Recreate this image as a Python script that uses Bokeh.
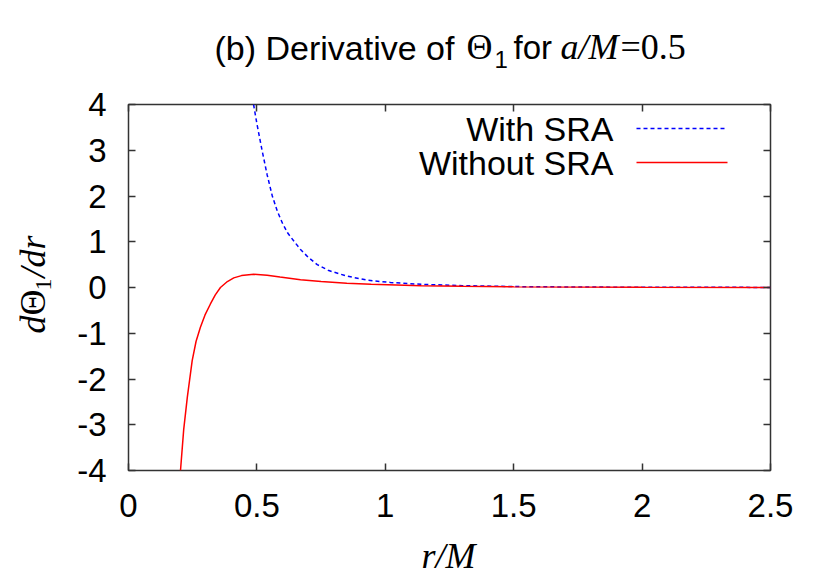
from math import pi
from bokeh.plotting import figure
from bokeh.models import LinearAxis, FixedTicker, Range1d, CustomJSTickFormatter
from bokeh.core.properties import value
from bokeh.embed import file_html
from bokeh.resources import INLINE

# ---- data ----
r_with = [0.487, 0.50, 0.52, 0.54, 0.56, 0.58, 0.60, 0.62, 0.646, 0.67, 0.70, 0.735, 0.78,
          0.85, 0.93, 1.02, 1.14, 1.3, 1.5, 1.75, 2.0, 2.25, 2.5]
d_with = [4.0, 3.58, 3.0, 2.46, 2.0, 1.66, 1.40, 1.19, 1.0, 0.83, 0.66, 0.5, 0.37,
          0.25, 0.16, 0.11, 0.07, 0.04, 0.02, 0.01, 0.006, 0.004, 0.002]

r_without = [0.2025, 0.215, 0.229, 0.248, 0.263, 0.280, 0.298, 0.319, 0.338, 0.358,
             0.385, 0.41, 0.44, 0.488, 0.54, 0.59, 0.67, 0.75, 0.85, 0.945, 1.14, 1.3, 1.5, 2.0, 2.5]
d_without = [-4.0, -3.1, -2.4, -1.6, -1.18, -0.87, -0.6, -0.36, -0.16, 0.0,
             0.13, 0.21, 0.26, 0.29, 0.27, 0.23, 0.17, 0.13, 0.095, 0.07, 0.04, 0.025, 0.015, 0.005, 0.002]

x_ticks = [0, 0.5, 1, 1.5, 2, 2.5]
y_ticks = [-4, -3, -2, -1, 0, 1, 2, 3, 4]
series_names = ["With SRA", "Without SRA"]

X0, X1, Y0, Y1 = 0, 2.5, -4, 4
# frame position on the canvas (pixels)
FL, FR, FT, FB = 128, 770, 104, 470
W, H = 830, 581

def px2x(px):
    return X0 + (px - FL) / (FR - FL) * (X1 - X0)

def py2y(py):
    return Y1 - (py - FT) / (FB - FT) * (Y1 - Y0)

p = figure(width=W, height=H, x_range=Range1d(X0, X1), y_range=Range1d(Y0, Y1),
           output_backend="svg", toolbar_location=None,
           min_border_left=FL, min_border_right=W - FR,
           min_border_top=FT, min_border_bottom=H - FB)
p.background_fill_color = "white"
p.border_fill_color = "white"
p.grid.visible = False
p.outline_line_color = "#333333"
p.outline_line_width = 1.5

fmt = CustomJSTickFormatter(code="return tick.toString();")
blank = CustomJSTickFormatter(code="return '';")

for ax, ticks in ((p.xaxis[0], x_ticks), (p.yaxis[0], y_ticks)):
    ax.ticker = FixedTicker(ticks=ticks)
    ax.formatter = fmt
    ax.axis_line_color = None
    ax.major_tick_in = 7
    ax.major_tick_out = 0
    ax.major_tick_line_color = "#333333"
    ax.major_tick_line_width = 1.5
    ax.minor_tick_line_color = None
    ax.major_label_text_font = "Liberation Sans"
    ax.major_label_text_font_size = "33px"
    ax.major_label_text_color = "black"
p.xaxis[0].major_label_standoff = 23
p.yaxis[0].major_label_standoff = 22

for loc, ticks in (("above", x_ticks), ("right", y_ticks)):
    ax = LinearAxis(ticker=FixedTicker(ticks=ticks), formatter=blank,
                    axis_line_color=None, major_tick_in=7, major_tick_out=0,
                    major_tick_line_color="#333333", major_tick_line_width=1.5,
                    minor_tick_line_color=None, major_label_standoff=0,
                    major_label_text_font_size="1px")
    p.add_layout(ax, loc)

# curves
p.line(r_with, d_with, line_color="#0000ff", line_width=1.5, line_dash="4 3")
p.line(r_without, d_without, line_color="#ff0000", line_width=1.5)

# legend (text on the left, sample on the right, as gnuplot does)
p.segment(x0=[px2x(636)], y0=[py2y(128)], x1=[px2x(727)], y1=[py2y(128)],
          line_color="#0000ff", line_width=1.5, line_dash="4 3")
p.segment(x0=[px2x(636)], y0=[py2y(162)], x1=[px2x(727)], y1=[py2y(162)],
          line_color="#ff0000", line_width=1.5)

def lab(text, px, py, font="Liberation Sans", size=34, style="normal", align="left", angle=0):
    # (px, py) is the wanted baseline point; the svg text sits ~0.32em lower, so compensate
    off = 0.32 * size
    if angle:
        px -= off
    else:
        py -= off
    p.text(x=[px2x(px)], y=[py2y(py)], text=[text], text_font=value(font),
           text_font_size=value(f"{size}px"), text_font_style=style,
           text_align=align, text_baseline="alphabetic", angle=angle,
           text_color="black", level="overlay")

lab(series_names[0], 613, 139, size=34, align="right")
lab(series_names[1], 613, 173, size=34, align="right")

# title
lab("(b) Derivative of", 214, 58, size=34)
lab("Θ", 466, 58, font="Liberation Serif", size=36)
lab("1", 494, 67, size=24)
lab("for", 513, 58, size=33)
lab("a/M", 560, 58, font="Liberation Serif", size=36, style="italic")
lab("=0.5", 620, 58, font="Liberation Serif", size=36)

# x axis label
lab("r/M", 448, 567, font="Liberation Serif", size=36, style="italic", align="center")

# y axis label (rotated)
lab("d", 44, 333, font="Liberation Serif", size=36, style="italic", angle=pi / 2)
lab("Θ", 44, 315, font="Liberation Serif", size=36, angle=pi / 2)
lab("1", 51, 290, font="Liberation Serif", size=24, angle=pi / 2)
lab("/dr", 44, 277, font="Liberation Serif", size=36, style="italic", angle=pi / 2)

open("out.html", "w").write(file_html(p, INLINE))
